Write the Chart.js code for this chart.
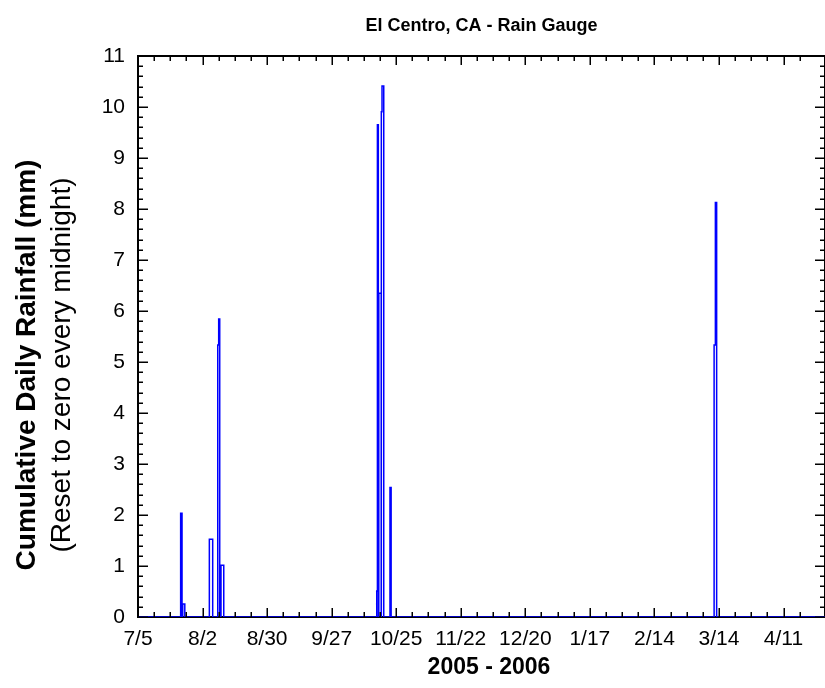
<!DOCTYPE html>
<html>
<head>
<meta charset="utf-8">
<title>El Centro, CA - Rain Gauge</title>
<script src="https://cdn.jsdelivr.net/npm/chart.js@4.4.1/dist/chart.umd.min.js"></script>
<style>
  body { margin: 0; background: #fff; }
  #wrap { width: 825px; height: 688px; }
</style>
</head>
<body>
<div id="wrap"><canvas id="rainChart"></canvas></div>
<script>
// gauge readings: day counted from 7/5/2005 (fractional), cumulative mm since midnight
const readDay = [0, 18.5, 19.1, 19.4, 20.3, 30.95, 32.4, 34.6, 35.0, 35.45, 36.0, 37.2,
                 103.55, 103.85, 104.25, 104.45, 105.5, 105.55, 105.85, 106.6, 109.3, 109.8,
                 249.9, 250.45, 251.0, 298];
const readMm = [0, 2.032, 0, 0.254, 0, 1.524, 0, 5.334, 5.842, 0, 1.016, 0,
                0.508, 9.652, 0, 6.35, 0, 9.906, 10.414, 0, 2.54, 0,
                5.334, 8.128, 0, 0];

const dateLabels = ["7/5", "8/2", "8/30", "9/27", "10/25", "11/22", "12/20", "1/17", "2/14", "3/14", "4/11"];

const chartTitle = "El Centro, CA - Rain Gauge";
const xTitle = "2005 - 2006";
const yTitle = "Cumulative Daily Rainfall (mm)";
const yNote = "(Reset to zero every midnight)";

const FONT = "'Liberation Sans', Arial, sans-serif";
Chart.defaults.font.family = FONT;
Chart.defaults.color = "#000";

const points = readDay.map((d, i) => ({ x: d, y: readMm[i] }));

// ticks drawn pointing into the plot on all four sides
const inwardTicks = {
    id: "inwardTicks",
    afterDraw(chart) {
        const { ctx, chartArea: a, scales: { x, y } } = chart;
        ctx.save();
        ctx.strokeStyle = "#000";
        ctx.lineWidth = 1.5;
        ctx.beginPath();
        x.ticks.forEach(t => {
            if (t.value % 7 !== 0) return;
            const px = Math.round(x.getPixelForValue(t.value)) + 0.25;
            const len = t.value % 28 === 0 ? 9 : 5;
            ctx.moveTo(px, a.bottom); ctx.lineTo(px, a.bottom - len);
            ctx.moveTo(px, a.top); ctx.lineTo(px, a.top + len);
        });
        y.ticks.forEach(t => {
            const py = Math.round(y.getPixelForValue(t.value)) + 0.25;
            const major = Math.abs(t.value - Math.round(t.value)) < 1e-6;
            const len = major ? 10 : 5;
            ctx.moveTo(a.left, py); ctx.lineTo(a.left + len, py);
            ctx.moveTo(a.right, py); ctx.lineTo(a.right - len, py);
        });
        ctx.stroke();
        ctx.restore();
    }
};

// axis titles (the y title has a bold line and a plain line)
const axisTitles = {
    id: "axisTitles",
    afterDraw(chart) {
        const { ctx } = chart;
        ctx.save();
        ctx.fillStyle = "#000";
        ctx.textAlign = "center";
        ctx.textBaseline = "middle";
        ctx.font = "bold 23px " + FONT;
        ctx.fillText(xTitle, 489, 668);
        ctx.translate(0, 365);
        ctx.rotate(-Math.PI / 2);
        ctx.font = "bold 28px " + FONT;
        ctx.fillText(yTitle, 0, 27);
        ctx.font = "28px " + FONT;
        ctx.fillText(yNote, 0, 62);
        ctx.restore();
    }
};

const ctx = document.getElementById("rainChart").getContext("2d");

const rainChart = new Chart(ctx, {
    type: "line",
    data: {
        datasets: [
            {
                label: "Rain",
                data: points,
                stepped: true,
                borderColor: "#0000ff",
                borderWidth: 1.5,
                pointRadius: 0,
                fill: false,
            },
        ],
    },
    options: {
        responsive: true,
        maintainAspectRatio: false,
        animation: false,
        layout: { padding: 0 },
        scales: {
            x: {
                type: "linear",
                position: "bottom",
                min: 0,
                max: 298,
                grid: { display: false, drawTicks: false },
                border: { display: true, color: "#000", width: 2 },
                ticks: {
                    stepSize: 7,
                    autoSkip: false,
                    maxRotation: 0,
                    padding: 10,
                    font: { size: 21 },
                    callback: (v) => (v % 28 === 0 ? dateLabels[v / 28] : ""),
                },
                afterFit: (s) => { s.height = 71; s.paddingLeft = 0; s.paddingRight = 0; },
            },
            x2: {
                type: "linear",
                position: "top",
                min: 0,
                max: 298,
                grid: { display: false, drawTicks: false },
                border: { display: true, color: "#000", width: 2 },
                ticks: { display: false },
                afterFit: (s) => { s.height = 0; s.paddingLeft = 0; s.paddingRight = 0; },
            },
            y: {
                position: "left",
                min: 0,
                max: 11,
                grid: { display: false, drawTicks: false },
                border: { display: true, color: "#000", width: 2 },
                ticks: {
                    stepSize: 0.2,
                    autoSkip: false,
                    padding: 13,
                    font: { size: 21 },
                    callback: (v) => (Math.abs(v - Math.round(v)) < 1e-6 ? Math.round(v) : ""),
                },
                afterFit: (s) => { s.width = 138; },
            },
            y2: {
                position: "right",
                min: 0,
                max: 11,
                grid: { display: false, drawTicks: false },
                border: { display: true, color: "#000", width: 2 },
                ticks: { display: false },
                afterFit: (s) => { s.width = 0; },
            },
        },
        plugins: {
            legend: { display: false },
            tooltip: { enabled: false },
            title: {
                display: true,
                text: chartTitle,
                fullSize: false,
                font: { size: 18, weight: "bold" },
                padding: { top: 15, bottom: 19.4 },
            },
        },
    },
    plugins: [inwardTicks, axisTitles],
});
</script>
</body>
</html>
